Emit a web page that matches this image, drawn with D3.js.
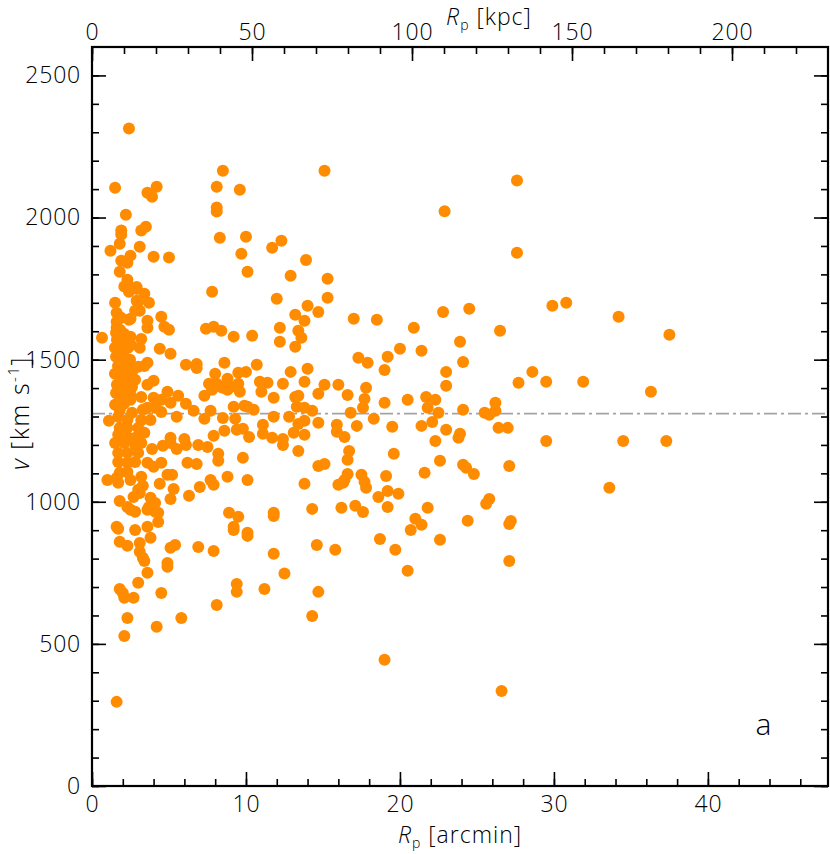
<!DOCTYPE html>
<html>
<head>
<meta charset="utf-8">
<script src="https://cdn.jsdelivr.net/npm/d3@7"></script>
<style>
  body { margin: 0; background: #fff; }
  svg text { font-family: "Open Sans", "DejaVu Sans", sans-serif; font-weight: 300; fill: #000; }
</style>
</head>
<body>
<div id="chart"></div>
<script>
// projected radius [arcmin] and line-of-sight velocity [km/s]
const rp = [
  27.6, 27.6, 24.5, 29.9, 30.8, 34.2, 26.5, 23.9, 24.1, 28.6,
  27.7, 29.5, 31.9, 24.1, 26.2, 25.5, 25.8, 26.2, 23.9, 26.4,
  27.0, 29.5, 34.5, 24.1, 24.3, 24.8, 27.1, 33.6, 25.8, 25.6,
  24.4, 27.1, 27.2, 27.1, 26.6, 37.5, 36.3, 37.3,
  15.1, 22.9, 12.3, 13.9, 12.9, 15.3, 15.3, 12.0, 14.0, 13.2,
  13.8, 14.7, 17.0, 18.5, 22.8, 12.2, 13.4, 13.6, 12.2, 13.2,
  20.9, 20.0, 21.4, 17.3, 17.9, 19.2, 19.0, 12.9, 14.0, 12.4,
  13.8, 15.1, 16.0, 14.7, 16.6, 17.8, 17.7, 17.6, 13.2, 13.4,
  23.0, 23.0, 21.7, 22.3, 20.5, 19.0, 21.8, 22.5, 13.3, 13.8,
  14.3, 12.8, 16.8, 13.4, 13.8, 14.7, 13.1, 13.8, 12.4, 15.9,
  15.9, 16.4, 17.2, 18.3, 19.5, 21.4, 22.1, 23.0, 22.3, 23.8,
  12.4, 13.4, 16.7, 16.6, 19.6, 22.6, 14.7, 15.1, 13.8, 16.0,
  16.3, 16.6, 16.4, 17.5, 17.7, 17.8, 19.1, 19.2, 18.6, 19.9,
  19.2, 21.6, 14.3, 16.2, 17.1, 17.6, 21.0, 21.4, 20.7, 21.8,
  22.6, 18.7, 19.7, 14.6, 15.8, 20.5, 12.5, 14.7, 14.3, 19.0,
  2.4, 1.5, 3.6, 4.2, 3.9, 2.2, 8.5, 8.1, 9.6, 8.1,
  8.1, 8.3, 10.0, 11.7, 9.7, 10.1, 1.9, 1.9, 1.8, 1.2,
  3.2, 3.5, 3.1, 2.5, 1.9, 2.3, 4.0, 5.0, 1.8, 2.3,
  2.1, 2.4, 2.9, 3.4, 1.5, 2.9, 3.7, 7.8, 1.6, 2.8,
  3.1, 1.9, 2.4, 3.6, 4.5, 3.6, 4.7, 5.0, 1.6, 0.65,
  1.8, 2.5, 3.2, 7.4, 7.9, 8.4, 9.2, 10.4,
  2.3, 2.9, 3.0, 1.6, 2.5, 3.0, 2.8, 2.6, 2.5, 3.2,
  5.1, 1.5, 1.8, 1.7, 2.3, 2.6, 3.6, 3.2, 3.8, 1.8,
  2.3, 3.0, 1.7, 2.3, 2.9, 3.4, 1.5, 2.1, 2.8, 3.2,
  5.1, 1.7, 2.3, 3.0, 1.7, 2.3, 2.8, 1.8, 2.3, 2.5,
  3.0, 2.3, 3.6, 4.3,
  1.56, 1.82, 2.08, 1.62, 1.88, 2.21, 1.49, 1.75, 2.01, 2.34,
  1.56, 1.88, 2.14, 1.69, 1.95, 2.27, 1.49, 1.82, 2.14, 1.62,
  1.95, 2.34, 1.56, 1.88, 2.21, 1.75, 2.08, 2.47, 2.60, 2.53,
  3.1, 4.4, 5.1, 6.1, 6.8, 6.8, 8.6, 10.7, 3.6, 3.4,
  8.0, 9.5, 10.0, 8.8, 7.6, 8.1, 8.4, 9.5, 9.0, 10.9,
  11.4, 4.0, 3.6, 4.9, 7.3, 7.8, 8.5, 8.8, 9.6, 11.0,
  11.8, 5.6, 4.0, 4.5, 2.5, 6.1, 6.6, 7.3, 7.7, 9.2,
  9.9, 10.1, 10.5, 8.5, 9.3, 11.8, 5.5, 4.5, 4.1, 3.3,
  1.1, 11.1, 11.1, 11.7, 9.4, 9.8, 10.2, 8.6, 7.9, 7.5,
  6.9, 6.0, 6.1, 5.1, 5.5, 4.6, 3.9, 9.8, 8.2, 8.2,
  6.2, 6.8, 3.6, 4.0, 4.5, 8.8, 10.1, 7.7, 7.9, 7.0,
  6.3, 4.9, 5.2, 4.4, 5.3, 5.1, 3.2, 3.3, 3.1, 2.7,
  3.8, 4.1, 3.7, 2.5, 2.8, 4.1, 1.8, 1.0, 1.6, 1.7,
  8.9, 9.5, 9.2, 9.2, 10.1, 10.1, 11.8, 11.8, 1.6, 1.7,
  2.8, 3.6, 4.3, 3.8, 1.8, 2.3, 3.1, 3.1, 3.3, 3.4,
  5.1, 5.4, 6.9, 7.9, 4.9, 4.9, 3.6, 11.8,
  3.0, 9.4, 1.8, 2.0, 2.1, 2.7, 4.5, 9.4, 11.2, 8.1,
  2.3, 5.8, 4.2, 2.1, 1.6
];
const vel = [
  2130, 1876, 1679, 1690, 1700, 1651, 1602, 1563, 1492, 1457,
  1419, 1422, 1422, 1324, 1348, 1313, 1306, 1320, 1239, 1260,
  1260, 1214, 1214, 1130, 1120, 1098, 1126, 1049, 1010, 993,
  933, 922, 932, 792, 334, 1588, 1387, 1214,
  2165, 2022, 1918, 1851, 1795, 1785, 1718, 1714, 1690, 1658,
  1637, 1668, 1644, 1640, 1668, 1612, 1602, 1577, 1563, 1545,
  1612, 1538, 1531, 1507, 1489, 1510, 1464, 1457, 1468, 1415,
  1422, 1412, 1412, 1380, 1376, 1401, 1362, 1331, 1369, 1373,
  1457, 1408, 1369, 1359, 1359, 1348, 1331, 1313, 1334, 1331,
  1320, 1299, 1313, 1274, 1285, 1278, 1243, 1236, 1221, 1271,
  1246, 1228, 1267, 1292, 1264, 1267, 1281, 1253, 1214, 1225,
  1200, 1179, 1179, 1148, 1169, 1144, 1126, 1133, 1063, 1060,
  1067, 1098, 1077, 1095, 1070, 1049, 1091, 1038, 1017, 1028,
  982, 1102, 975, 979, 986, 964, 940, 919, 901, 979,
  866, 869, 831, 848, 831, 757, 748, 683, 598, 444,
  2313, 2105, 2087, 2108, 2073, 2010, 2165, 2108, 2098, 2035,
  2021, 1929, 1932, 1894, 1873, 1809, 1954, 1940, 1908, 1883,
  1954, 1968, 1897, 1866, 1848, 1841, 1862, 1859, 1809, 1781,
  1757, 1739, 1749, 1732, 1700, 1707, 1700, 1739, 1665, 1672,
  1672, 1647, 1640, 1637, 1651, 1612, 1616, 1605, 1612, 1577,
  1588, 1581, 1573, 1609, 1616, 1602, 1581, 1584,
  1767, 1756, 1704, 1633, 1644, 1475, 1429, 1404, 1376, 1369,
  1348, 1341, 1324, 1299, 1288, 1313, 1331, 1288, 1288, 1260,
  1260, 1260, 1236, 1228, 1228, 1243, 1207, 1207, 1200, 1207,
  1207, 1172, 1172, 1172, 1140, 1137, 1140, 1102, 1105, 1077,
  1042, 982, 972, 961,
  1595, 1605, 1591, 1570, 1559, 1566, 1542, 1535, 1528, 1542,
  1510, 1500, 1507, 1478, 1464, 1478, 1450, 1440, 1433, 1412,
  1401, 1415, 1383, 1373, 1387, 1352, 1345, 1500, 1457, 1552,
  1542, 1538, 1521, 1482, 1485, 1471, 1489, 1482, 1489, 1478,
  1450, 1454, 1457, 1433, 1415, 1415, 1404, 1415, 1404, 1422,
  1419, 1426, 1412, 1387, 1373, 1394, 1401, 1394, 1387, 1387,
  1366, 1373, 1366, 1359, 1359, 1345, 1320, 1292, 1320, 1334,
  1338, 1334, 1324, 1295, 1292, 1299, 1299, 1316, 1331, 1324,
  1285, 1271, 1239, 1225, 1253, 1257, 1228, 1250, 1232, 1193,
  1200, 1221, 1200, 1225, 1186, 1197, 1186, 1155, 1144, 1169,
  1137, 1133, 1137, 1123, 1137, 1088, 1077, 1077, 1060, 1052,
  1021, 1095, 1095, 1063, 1045, 1010, 1088, 1056, 1031, 1017,
  1014, 996, 982, 972, 965, 965, 1003, 1077, 1084, 1067,
  961, 947, 912, 901, 891, 880, 961, 950, 912, 905,
  901, 912, 929, 873, 859, 845, 855, 824, 803, 792,
  838, 848, 841, 827, 785, 771, 750, 817,
  715, 711, 693, 679, 662, 662, 679, 683, 693, 637,
  591, 591, 560, 528, 296
];
const vMean = 1310;              // dash-dot reference line
const xTicks = [0, 10, 20, 30, 40];
const kpcTicks = [0, 50, 100, 150, 200];
const yTicks = [0, 500, 1000, 1500, 2000, 2500];

const data = d3.range(Math.min(rp.length, vel.length)).map(i => ({r: rp[i], v: vel[i]}));

var margin = {top: 47, right: 2, bottom: 68, left: 92},
    width = 830 - margin.left - margin.right,
    height = 854 - margin.top - margin.bottom;

var svg = d3.select("#chart")
  .append("svg")
    .attr("width", 830)
    .attr("height", 854);
var g = svg.append("g")
    .attr("transform", "translate(" + margin.left + "," + margin.top + ")");

var x = d3.scaleLinear().domain([0, 47.8]).range([0, width]);
var xk = d3.scaleLinear().domain([0, 230]).range([0, width]);
var y = d3.scaleLinear().domain([0, 2600]).range([height, 0]);

// reference line
g.append("line")
  .attr("x1", 0).attr("x2", width)
  .attr("y1", y(vMean)).attr("y2", y(vMean))
  .attr("stroke", "#a3a3a3")
  .attr("stroke-width", 1.6)
  .attr("stroke-dasharray", "13,4,3,4");

// points
g.selectAll("circle")
  .data(data)
  .enter()
  .append("circle")
    .attr("cx", d => x(d.r))
    .attr("cy", d => y(d.v))
    .attr("r", 6)
    .attr("fill", "#ff8c00");

// axes, ticks pointing inward
function styleAxis(sel) {
  sel.select(".domain").remove();
  sel.selectAll(".tick line").attr("stroke", "#000").attr("stroke-width", 1.6);
  sel.selectAll(".tick text").attr("font-size", 23).attr("letter-spacing", 0.8)
    .attr("font-family", null).attr("fill", "#000");
}
var noLabel = d => "";
var plain = d3.format("d");

g.append("g").attr("transform", "translate(0," + height + ")")
  .call(d3.axisBottom(x).tickValues(d3.range(0, 48, 2)).tickSize(-7).tickFormat(noLabel)).call(styleAxis);
g.append("g").attr("transform", "translate(0," + height + ")")
  .call(d3.axisBottom(x).tickValues(xTicks).tickSize(-14).tickPadding(10).tickFormat(plain)).call(styleAxis);

g.append("g")
  .call(d3.axisTop(xk).tickValues(d3.range(0, 230, 10)).tickSize(-7).tickFormat(noLabel)).call(styleAxis);
g.append("g")
  .call(d3.axisTop(xk).tickValues(kpcTicks).tickSize(-14).tickPadding(7).tickFormat(plain)).call(styleAxis);

g.append("g")
  .call(d3.axisLeft(y).tickValues(d3.range(0, 2600, 100)).tickSize(-7).tickFormat(noLabel)).call(styleAxis);
g.append("g")
  .call(d3.axisLeft(y).tickValues(yTicks).tickSize(-14).tickPadding(11).tickFormat(plain)).call(styleAxis);

g.append("g").attr("transform", "translate(" + width + ",0)")
  .call(d3.axisRight(y).tickValues(d3.range(0, 2600, 100)).tickSize(-7).tickFormat(noLabel)).call(styleAxis);
g.append("g").attr("transform", "translate(" + width + ",0)")
  .call(d3.axisRight(y).tickValues(yTicks).tickSize(-14).tickFormat(noLabel)).call(styleAxis);

// frame
g.append("rect")
  .attr("width", width).attr("height", height)
  .attr("fill", "none").attr("stroke", "#000").attr("stroke-width", 2.2);

// axis titles
var bt = svg.append("text").attr("x", 460).attr("y", 843).attr("text-anchor", "middle")
  .attr("font-size", 23).attr("letter-spacing", 1);
bt.append("tspan").attr("font-style", "italic").text("R");
bt.append("tspan").attr("font-size", 14).attr("dy", 5).text("p");
bt.append("tspan").attr("dy", -5).text(" [arcmin]");

var tt = svg.append("text").attr("x", 489).attr("y", 25).attr("text-anchor", "middle")
  .attr("font-size", 23).attr("letter-spacing", 1);
tt.append("tspan").attr("font-style", "italic").text("R");
tt.append("tspan").attr("font-size", 14).attr("dy", 5).text("p");
tt.append("tspan").attr("dy", -5).text(" [kpc]");

var yt = svg.append("text").attr("transform", "translate(29,413) rotate(-90)")
  .attr("text-anchor", "middle").attr("font-size", 25).attr("letter-spacing", 1.5);
yt.append("tspan").attr("font-style", "italic").text("v");
yt.append("tspan").text(" [km s");
yt.append("tspan").attr("font-size", 15).attr("dy", -10).text("-1");
yt.append("tspan").attr("dy", 10).text("]");

// panel label
g.append("text")
  .attr("x", x(43.6)).attr("y", y(180))
  .attr("text-anchor", "middle")
  .attr("font-size", 30)
  .text("a");
</script>
</body>
</html>
